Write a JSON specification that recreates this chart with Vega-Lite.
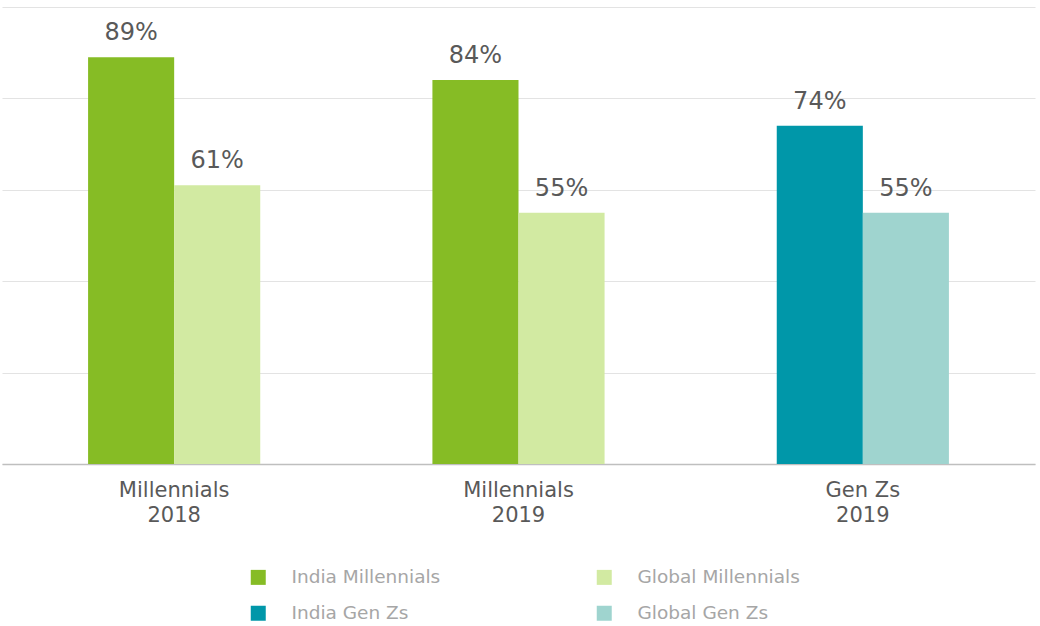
{
  "$schema": "https://vega.github.io/schema/vega-lite/v6.json",
  "width": 1033,
  "height": 457,
  "padding": {"left": 2, "top": 7, "right": 5, "bottom": 0},
  "background": "white",
  "config": {
    "font": "DejaVu Sans",
    "view": {"stroke": null}
  },
  "data": {
    "values": [
      {"group": "Millennials|2018", "side": "India", "series": "India Millennials", "value": 0.89},
      {"group": "Millennials|2018", "side": "Global", "series": "Global Millennials", "value": 0.61},
      {"group": "Millennials|2019", "side": "India", "series": "India Millennials", "value": 0.84},
      {"group": "Millennials|2019", "side": "Global", "series": "Global Millennials", "value": 0.55},
      {"group": "Gen Zs|2019", "side": "India", "series": "India Gen Zs", "value": 0.74},
      {"group": "Gen Zs|2019", "side": "Global", "series": "Global Gen Zs", "value": 0.55}
    ]
  },
  "encoding": {
    "x": {
      "field": "group",
      "type": "nominal",
      "sort": null,
      "scale": {"paddingInner": 0.5, "paddingOuter": 0.25},
      "axis": {
        "title": null,
        "labelAngle": 0,
        "labelExpr": "split(datum.label, '|')",
        "labelFontSize": 21,
        "labelLineHeight": 25,
        "labelColor": "#595959",
        "labelPadding": 15,
        "ticks": false,
        "domainColor": "#bfbfbf",
        "domainWidth": 1.5
      }
    },
    "xOffset": {
      "field": "side",
      "type": "nominal",
      "sort": ["India", "Global"],
      "scale": {"paddingInner": 0, "paddingOuter": 0}
    },
    "y": {
      "field": "value",
      "type": "quantitative",
      "scale": {"domain": [0, 1], "nice": false},
      "axis": {
        "title": null,
        "labels": false,
        "ticks": false,
        "domain": false,
        "values": [0, 0.2, 0.4, 0.6, 0.8, 1.0],
        "gridColor": "#e3e3e3",
        "gridWidth": 1.2
      }
    }
  },
  "layer": [
    {
      "mark": {"type": "bar"},
      "encoding": {
        "color": {
          "field": "series",
          "type": "nominal",
          "scale": {
            "domain": ["India Millennials", "Global Millennials", "India Gen Zs", "Global Gen Zs"],
            "range": ["#86bc25", "#d2eaa2", "#0097a9", "#9fd4cf"]
          },
          "legend": {
            "title": null,
            "orient": "none",
            "legendX": 247,
            "legendY": 561,
            "direction": "horizontal",
            "columns": 2,
            "symbolType": "square",
            "symbolSize": 225,
            "symbolStrokeWidth": 0,
            "labelFontSize": 18.5,
            "labelColor": "#a6a6a6",
            "labelOffset": 24,
            "rowPadding": 17,
            "columnPadding": 154,
            "labelLimit": 300
          }
        }
      }
    },
    {
      "mark": {"type": "text", "baseline": "bottom", "dy": -12, "fontSize": 24, "color": "#595959"},
      "encoding": {
        "text": {"field": "value", "type": "quantitative", "format": ".0%"}
      }
    }
  ]
}
